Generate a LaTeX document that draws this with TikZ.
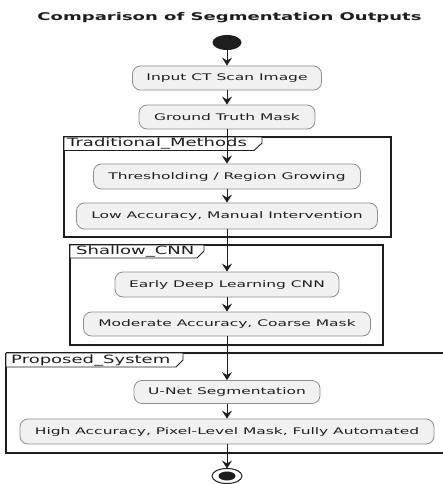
\documentclass[tikz,border=0pt]{standalone}
\usepackage{fontspec}
\setmainfont{DejaVu Sans}
\usetikzlibrary{arrows.meta}
\definecolor{boxfill}{HTML}{F1F1F1}
\definecolor{boxline}{HTML}{8E8E8E}
\definecolor{ink}{HTML}{1E1E1E}
\newcommand{\wide}[1]{\scalebox{1.7}[1]{#1}}
\newcommand{\tabwide}[1]{\scalebox{1.58}[1]{#1}}
\tikzset{
  act/.style={draw=boxline, fill=boxfill, line width=0.8pt, rounded corners=8pt,
    inner sep=0pt, minimum height=24pt, font=\fontsize{9.1}{10}\selectfont, text=ink},
  flow/.style={draw=ink, line width=1pt, -{Stealth[length=8pt,width=10pt,inset=3pt]}},
  frame/.style={draw=ink, line width=1.5pt},
  tab/.style={draw=ink, line width=0.9pt, fill=white},
  tablabel/.style={anchor=base west, inner sep=0pt, font=\fontsize{11.4}{13}\selectfont, text=ink}
}
\begin{document}
\begin{tikzpicture}[x=1pt, y=-1pt]
\useasboundingbox (0,0) rectangle (443,484);
\fill[white] (0,0) rectangle (443,484);

% title
\node[font=\bfseries\fontsize{10.6}{12}\selectfont, text=ink] (title) at (229.5,18) {\wide{Comparison of Segmentation Outputs}};

% partitions
\draw[frame] (64,137) rectangle (391,237);
\draw[tab] (64,137) -- (262,137) -- (262,143) -- (254,150.5) -- (64,150.5) -- cycle;
\node[tablabel] (lblA) at (67,146.6) {\tabwide{Traditional\_Methods}};

\draw[frame] (70,245) rectangle (383,345);
\draw[tab] (70,245) -- (204,245) -- (204,251) -- (197,258) -- (70,258) -- cycle;
\node[tablabel] (lblB) at (76,254.2) {\tabwide{Shallow\_CNN}};

\draw[frame] (6,353) -- (446,353) (6,353) -- (6,453) -- (446,453);
\draw[tab] (6,353) -- (183,353) -- (183,360) -- (176,367) -- (6,367) -- cycle;
\node[tablabel] (lblC) at (11,363.2) {\tabwide{Proposed\_System}};

% start and end
\fill[ink] (227,42.5) ellipse [x radius=14.5pt, y radius=7.5pt];
\coordinate (start) at (227,50);
\draw[ink, line width=1pt] (227,476) ellipse [x radius=15pt, y radius=7.5pt];
\fill[ink] (227,476) ellipse [x radius=8.5pt, y radius=4.5pt];
\coordinate (stop) at (227,468.5);

% activities
\node[act, minimum width=189pt] (in)    at (227,78)    {\wide{Input CT Scan Image}};
\node[act, minimum width=176pt] (gt)    at (227,117)   {\wide{Ground Truth Mask}};
\node[act, minimum width=267pt, minimum height=25pt] (thr)   at (227,176.5) {\wide{Thresholding / Region Growing}};
\node[act, minimum width=301pt, minimum height=26pt] (low)   at (227,216)   {\wide{Low Accuracy, Manual Intervention}};
\node[act, minimum width=224pt, minimum height=25pt] (early) at (227,284.5) {\wide{Early Deep Learning CNN}};
\node[act, minimum width=287pt] (mod)   at (227,324)   {\wide{Moderate Accuracy, Coarse Mask}};
\node[act, minimum width=186pt, minimum height=23pt] (unet)  at (227,392)   {\wide{U-Net Segmentation}};
\node[act, minimum width=414pt, minimum height=25pt] (high)  at (227,431.5) {\wide{High Accuracy, Pixel-Level Mask, Fully Automated}};

% connectors
\draw[flow] (start) -- (in);
\draw[flow] (in) -- (gt);
\draw[flow] (gt) -- (thr);
\draw[flow] (thr) -- (low);
\draw[flow] (low) -- (early);
\draw[flow] (early) -- (mod);
\draw[flow] (mod) -- (unet);
\draw[flow] (unet) -- (high);
\draw[flow] (high) -- (stop);
\end{tikzpicture}
\end{document}
